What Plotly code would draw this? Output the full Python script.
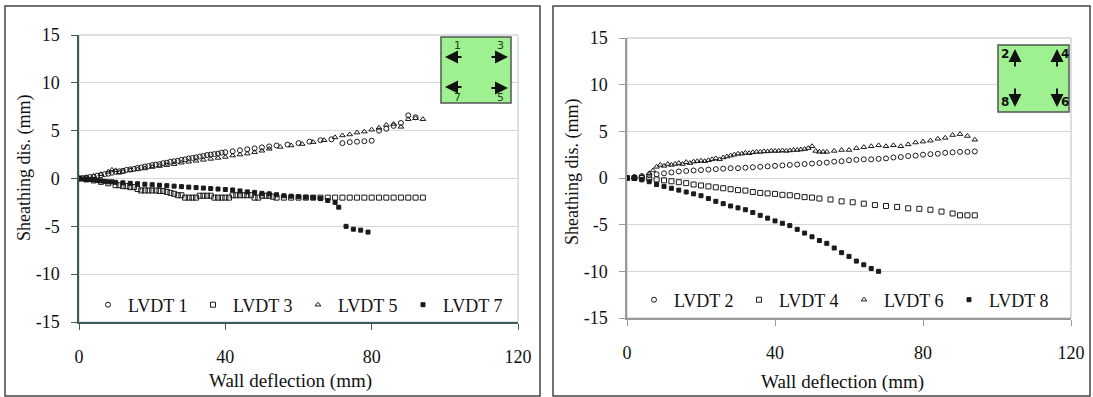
import plotly.graph_objects as go

W, H = 1093, 397

# ---------------- data: left panel (horizontal LVDTs) ----------------
lvdt1_x = [0, 1, 2, 3, 4, 5, 6, 7, 8, 9, 10, 11, 12, 13, 14, 15, 16, 17, 18, 19, 20, 21, 22, 23, 24, 25, 26, 27, 28, 29,
           30, 31, 32, 33, 34, 35, 36, 37, 38, 39, 40, 42, 44, 46, 48, 50, 52, 54, 57, 60, 63, 66, 69, 72, 74, 76, 78, 80,
           82, 84, 86, 88, 90, 92]
lvdt1_y = [0, 0.05, 0.1, 0.15, 0.2, 0.3, 0.35, 0.45, 0.5, 0.6, 0.7, 0.75, 0.8, 0.9, 0.95, 1.0, 1.1, 1.15, 1.25, 1.3, 1.4,
           1.45, 1.5, 1.6, 1.65, 1.75, 1.8, 1.85, 1.95, 2.0, 2.1, 2.15, 2.2, 2.3, 2.35, 2.45, 2.5, 2.55, 2.6, 2.7, 2.75,
           2.85, 2.95, 3.05, 3.15, 3.25, 3.35, 3.45, 3.55, 3.7, 3.85, 4.0, 4.1, 3.7, 3.8, 3.85, 3.9, 3.95, 5.0, 5.2, 5.5,
           5.8, 6.6, 6.4]

lvdt3_x = [0, 2, 4, 6, 8, 10, 11, 12, 13, 14, 15, 16, 17, 18, 19, 20, 21, 22, 23, 24, 25, 26, 27, 28, 29, 30, 31, 32, 33,
           34, 35, 36, 37, 38, 39, 40, 41, 42, 43, 44, 45, 46, 47, 48, 49, 50, 51, 52, 53, 54, 56, 58, 60, 62, 64, 66, 68,
           70, 72, 74, 76, 78, 80, 82, 84, 86, 88, 90, 92, 94]
lvdt3_y = [0, -0.1, -0.2, -0.35, -0.5, -0.7, -0.7, -0.8, -0.8, -0.9, -0.9, -1.1, -1.25, -1.25, -1.25, -1.25, -1.25, -1.3,
           -1.3, -1.4, -1.5, -1.6, -1.75, -1.75, -2.0, -2.0, -2.0, -2.0, -1.8, -1.8, -1.8, -1.8, -2.0, -2.0, -2.0, -2.0,
           -2.0, -1.75, -1.75, -1.75, -1.75, -1.75, -1.75, -2.0, -2.0, -1.8, -1.8, -1.8, -1.9, -2.0, -2.0, -2.0, -2.0,
           -2.0, -2.0, -2.0, -2.0, -2.0, -2.0, -2.0, -2.0, -2.0, -2.0, -2.0, -2.0, -2.0, -2.0, -2.0, -2.0, -2.0]

lvdt5_x = [0, 2, 4, 6, 8, 9, 10, 11, 12, 14, 16, 18, 20, 22, 24, 26, 28, 30, 32, 34, 36, 38, 40, 42, 44, 46, 48, 50, 52,
           55, 58, 61, 64, 67, 70, 72, 74, 76, 78, 80, 82, 84, 86, 88, 90, 92, 94]
lvdt5_y = [0, 0.1, 0.25, 0.45, 0.7, 0.9, 0.85, 0.6, 0.7, 0.85, 0.95, 1.05, 1.2, 1.3, 1.4, 1.5, 1.65, 1.75, 1.85, 1.95,
           2.05, 2.15, 2.25, 2.4, 2.5, 2.6, 2.75, 2.9, 3.1, 3.3, 3.45, 3.6, 3.8, 4.0, 4.3, 4.5, 4.6, 4.8, 4.9, 5.1, 5.3,
           5.6, 5.7, 5.4, 6.2, 6.3, 6.2]

lvdt7_x = [0, 1, 2, 3, 4, 5, 6, 7, 8, 9, 10, 12, 14, 16, 18, 20, 22, 24, 26, 28, 30, 32, 34, 36, 38, 40, 42, 44, 46, 48,
           50, 52, 54, 56, 58, 60, 62, 64, 66, 68, 70, 71, 73, 75, 77, 79]
lvdt7_y = [0, -0.05, -0.1, -0.1, -0.15, -0.2, -0.25, -0.3, -0.35, -0.35, -0.4, -0.45, -0.5, -0.55, -0.6, -0.65, -0.7,
           -0.75, -0.8, -0.85, -0.9, -0.95, -1.0, -1.05, -1.1, -1.15, -1.2, -1.3, -1.4, -1.45, -1.55, -1.6, -1.7, -1.8,
           -1.85, -1.9, -1.95, -2.0, -2.1, -2.3, -2.5, -3.0, -5.0, -5.3, -5.4, -5.6]

# ---------------- data: right panel (vertical LVDTs) ----------------
lvdt2_x = [0, 2, 4, 6, 8, 10, 12, 14, 16, 18, 20, 22, 24, 26, 28, 30, 32, 34, 36, 38, 40, 42, 44, 46, 48, 50, 52, 54, 56,
           58, 60, 62, 64, 66, 68, 70, 72, 74, 76, 78, 80, 82, 84, 86, 88, 90, 92, 94]
lvdt2_y = [0, 0.1, 0.2, 0.3, 0.4, 0.5, 0.6, 0.7, 0.75, 0.8, 0.85, 0.9, 0.95, 1.0, 1.05, 1.05, 1.1, 1.15, 1.2, 1.25, 1.3,
           1.35, 1.4, 1.45, 1.5, 1.55, 1.6, 1.65, 1.75, 1.8, 1.9, 1.95, 2.0, 2.0, 2.05, 2.1, 2.2, 2.25, 2.35, 2.4, 2.5,
           2.55, 2.6, 2.7, 2.75, 2.8, 2.8, 2.85]

lvdt4_x = [0, 2, 4, 6, 8, 10, 12, 14, 16, 18, 20, 22, 24, 26, 28, 30, 32, 34, 36, 38, 40, 42, 44, 46, 48, 50, 52, 55, 58,
           61, 64, 67, 70, 73, 76, 79, 82, 85, 88, 90, 92, 94]
lvdt4_y = [0, 0.0, 0.0, -0.05, -0.15, -0.25, -0.35, -0.45, -0.55, -0.7, -0.8, -0.9, -1.0, -1.1, -1.2, -1.3, -1.35, -1.5,
           -1.6, -1.65, -1.7, -1.8, -1.85, -1.95, -2.05, -2.1, -2.2, -2.3, -2.5, -2.6, -2.75, -2.9, -3.0, -3.1, -3.25,
           -3.3, -3.4, -3.6, -3.8, -4.0, -4.0, -4.0]

lvdt6_x = [0, 2, 4, 6, 7, 8, 9, 10, 11, 12, 13, 14, 15, 16, 17, 18, 19, 20, 21, 22, 23, 24, 25, 26, 27, 28, 29, 30, 31,
           32, 33, 34, 35, 36, 37, 38, 39, 40, 41, 42, 43, 44, 45, 46, 47, 48, 49, 50, 51, 52, 53, 54, 56, 58, 60, 62,
           64, 66, 68, 70, 72, 74, 76, 78, 80, 82, 84, 86, 88, 90, 92, 94]
lvdt6_y = [0, 0.1, 0.2, 0.5, 0.8, 1.2, 1.4, 1.3, 1.5, 1.4, 1.5, 1.6, 1.5, 1.7, 1.6, 1.75, 1.8, 1.85, 1.8, 1.9, 2.0, 2.1,
           2.0, 2.2, 2.3, 2.4, 2.5, 2.6, 2.6, 2.7, 2.65, 2.75, 2.8, 2.8, 2.85, 2.85, 2.9, 2.9, 2.9, 2.95, 2.9, 2.95, 3.0,
           3.0, 3.05, 3.1, 3.2, 3.4, 2.9, 2.8, 2.8, 2.8, 2.9, 3.0, 3.0, 3.2, 3.3, 3.4, 3.5, 3.4, 3.5, 3.4, 3.6, 3.8, 3.9,
           4.0, 4.2, 4.3, 4.6, 4.7, 4.5, 4.1]

lvdt8_x = [0, 2, 4, 6, 8, 10, 12, 14, 16, 18, 20, 22, 24, 26, 28, 30, 32, 34, 36, 38, 40, 42, 44, 46, 48, 50, 52, 54, 56,
           58, 60, 62, 64, 66, 68]
lvdt8_y = [0, -0.05, -0.2, -0.4, -0.7, -0.9, -1.1, -1.3, -1.5, -1.7, -1.9, -2.2, -2.5, -2.75, -3.0, -3.2, -3.4, -3.7,
           -4.0, -4.3, -4.6, -4.85, -5.1, -5.5, -5.9, -6.3, -6.7, -7.0, -7.5, -8.0, -8.4, -8.9, -9.3, -9.7, -10.0]

left_names = ["LVDT 1", "LVDT 3", "LVDT 5", "LVDT 7"]
right_names = ["LVDT 2", "LVDT 4", "LVDT 6", "LVDT 8"]
x_ticks = [0, 40, 80, 120]
x_tick_text = ["0", "40", "80", "120"]
y_ticks = [-15, -10, -5, 0, 5, 10, 15]
y_tick_text = ["-15", "-10", "-5", "0", "5", "10", "15"]
x_title = "Wall deflection (mm)"
y_title = "Sheathing dis. (mm)"


def px(x):
    return x / W


def py(y):
    return 1 - y / H


SERIF = "Liberation Serif, Times New Roman, serif"
MK = "#1a1a1a"
symbols = ["circle-open", "square-open", "triangle-up-open", "square"]
sizes = [5, 5, 5, 4]

fig = go.Figure()

left_data = [(lvdt1_x, lvdt1_y), (lvdt3_x, lvdt3_y), (lvdt5_x, lvdt5_y), (lvdt7_x, lvdt7_y)]
right_data = [(lvdt2_x, lvdt2_y), (lvdt4_x, lvdt4_y), (lvdt6_x, lvdt6_y), (lvdt8_x, lvdt8_y)]

for i, (xs, ys) in enumerate(left_data):
    fig.add_trace(go.Scatter(x=xs, y=ys, mode="markers", name=left_names[i], xaxis="x", yaxis="y",
                             legend="legend",
                             marker=dict(symbol=symbols[i], size=sizes[i], color=MK, line=dict(width=1, color=MK))))
for i, (xs, ys) in enumerate(right_data):
    fig.add_trace(go.Scatter(x=xs, y=ys, mode="markers", name=right_names[i], xaxis="x2", yaxis="y2",
                             legend="legend2",
                             marker=dict(symbol=symbols[i], size=sizes[i], color=MK, line=dict(width=1, color=MK))))

tickfont = dict(family=SERIF, size=18, color="#111")


def xaxis(domain, anchor, linecolor):
    return dict(domain=domain, anchor=anchor, range=[0, 120], tickvals=x_ticks, ticktext=x_tick_text,
                showgrid=False, zeroline=False,
                showline=True, linecolor=linecolor, linewidth=1.5, ticks="outside", ticklen=6, tickcolor=linecolor,
                tickfont=tickfont, ticklabelstandoff=12, fixedrange=True)


def yaxis(domain, anchor, linecolor, gridcolor):
    return dict(domain=domain, anchor=anchor, range=[-15, 15], tickvals=y_ticks, ticktext=y_tick_text,
                showgrid=True, gridcolor=gridcolor,
                gridwidth=1, zeroline=False, showline=True, linecolor=linecolor, linewidth=1.5, ticks="outside",
                ticklen=6, tickcolor=linecolor, tickfont=tickfont, ticklabelstandoff=8, fixedrange=True)


fig.update_layout(
    width=W, height=H, margin=dict(l=0, r=0, t=0, b=0, autoexpand=False),
    paper_bgcolor="white", plot_bgcolor="white",
    xaxis=xaxis([px(79), px(518)], "y", "#3f5a5a"),
    yaxis=yaxis([py(322), py(35)], "x", "#3f5a5a", "#d2dcdc"),
    xaxis2=xaxis([px(627), px(1071)], "y2", "#9a9a9a"),
    yaxis2=yaxis([py(318), py(38)], "x2", "#9a9a9a", "#d6d6d6"),
    legend=dict(orientation="h", x=px(88), y=py(305), xanchor="left", yanchor="middle", entrywidth=60,
                font=dict(family=SERIF, size=18, color="#111"), bgcolor="rgba(0,0,0,0)", itemclick=False,
                tracegroupgap=0),
    legend2=dict(orientation="h", x=px(634), y=py(300), xanchor="left", yanchor="middle", entrywidth=60,
                 font=dict(family=SERIF, size=18, color="#111"), bgcolor="rgba(0,0,0,0)", itemclick=False,
                 tracegroupgap=0),
    showlegend=True,
)

shapes = []
# panel frames
shapes.append(dict(type="rect", xref="paper", yref="paper", x0=px(5), x1=px(540), y0=py(396), y1=py(6),
                   line=dict(color="#444", width=1.5), layer="below"))
shapes.append(dict(type="rect", xref="paper", yref="paper", x0=px(553), x1=px(1090), y0=py(396), y1=py(6),
                   line=dict(color="#444", width=1.5), layer="below"))
# plot area frames (top / right)
shapes.append(dict(type="rect", xref="x domain", yref="y domain", x0=0, x1=1, y0=0, y1=1,
                   line=dict(color="#b8c4c4", width=1), layer="below"))
shapes.append(dict(type="rect", xref="x2 domain", yref="y2 domain", x0=0, x1=1, y0=0, y1=1,
                   line=dict(color="#bdbdbd", width=1), layer="below"))
# inset boxes
shapes.append(dict(type="rect", xref="paper", yref="paper", x0=px(441), x1=px(511), y0=py(103), y1=py(37),
                   fillcolor="#9ef091", line=dict(color="#555", width=1.5), layer="above"))
shapes.append(dict(type="rect", xref="paper", yref="paper", x0=px(998), x1=px(1069), y0=py(112), y1=py(45),
                   fillcolor="#9ef091", line=dict(color="#555", width=1.5), layer="above"))
fig.update_layout(shapes=shapes)

ann = []
TXT = dict(xref="paper", yref="paper", showarrow=False, xanchor="center", yanchor="middle")
# axis titles
ann.append(dict(text=x_title, x=px(290), y=py(381), font=dict(family=SERIF, size=19, color="#111"), **TXT))
ann.append(dict(text=x_title, x=px(842), y=py(382), font=dict(family=SERIF, size=19, color="#111"), **TXT))
ann.append(dict(text=y_title, x=px(25), y=py(168), textangle=-90,
                font=dict(family=SERIF, size=18, color="#111"), **TXT))
ann.append(dict(text=y_title, x=px(572), y=py(172), textangle=-90,
                font=dict(family=SERIF, size=18, color="#111"), **TXT))


def arrow(hx, hy, dx, dy):
    return dict(text="", x=px(hx), y=py(hy), xref="paper", yref="paper", showarrow=True, ax=dx, ay=dy,
                arrowhead=2, arrowsize=1.3, arrowwidth=2, arrowcolor="#111")


def label(t, x, y, size=11, color="#1d3d1d"):
    return dict(text=t, x=px(x), y=py(y), font=dict(family="DejaVu Sans", size=size, color=color), **TXT)


# left inset: horizontal arrows
ann += [arrow(445, 57, 18, 0), arrow(508, 57, -18, 0), arrow(445, 87, 18, 0), arrow(508, 88, -18, 0)]
ann += [label("1", 457, 46), label("3", 500, 46), label("7", 457, 97), label("5", 500, 98)]
# right inset: vertical arrows
ann += [arrow(1015, 49, 0, 19), arrow(1057, 49, 0, 19), arrow(1015, 107, 0, -20), arrow(1057, 107, 0, -20)]
ann += [label("<b>2</b>", 1005, 54, 12, "#111"), label("<b>4</b>", 1065, 54, 12, "#111"),
        label("<b>8</b>", 1005, 102, 12, "#111"), label("<b>6</b>", 1065, 102, 12, "#111")]
fig.update_layout(annotations=ann)

fig.write_html("out.html", config={"displayModeBar": False},
               post_script="document.body.style.margin='0';document.body.style.padding='0';"
                           "document.body.style.overflow='hidden';")
